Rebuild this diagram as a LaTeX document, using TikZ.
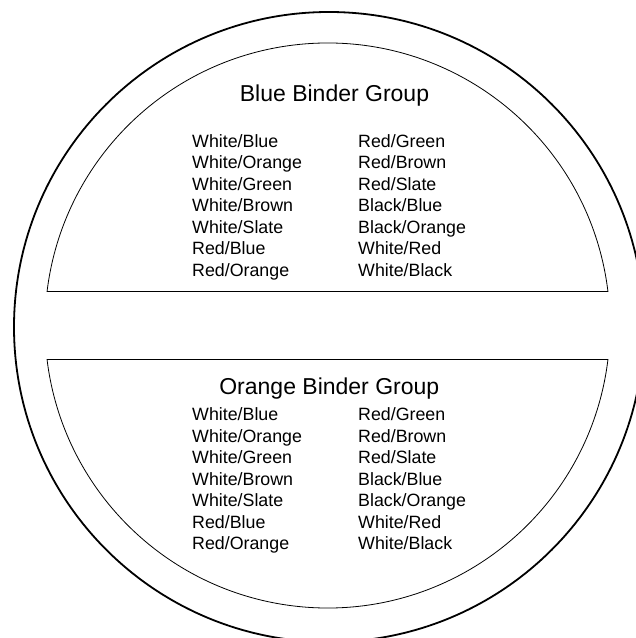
\documentclass[tikz,border=0pt]{standalone}
\usepackage{fontspec}
\setmainfont{Liberation Sans}
\begin{document}
\begin{tikzpicture}[x=1pt,y=1pt,
  pair/.style={font=\fontsize{17.8}{21}\selectfont,inner sep=0pt,anchor=base west},
  grouptitle/.style={font=\fontsize{23}{27}\selectfont,inner sep=0pt,anchor=base}]
\useasboundingbox (0,0) rectangle (636,638);
\clip (0,0) rectangle (636,638);
\coordinate (ctr) at (327.5,312.5);
\coordinate (rim) at (329,311);
% outer ring and the two binder halves
\draw[line width=1.8pt] (rim) circle (315pt);
\draw[line width=0.8pt] (ctr) ++(6.9:282.5pt) arc (6.9:173.1:282.5pt) -- cycle;
\draw[line width=0.8pt] (ctr) ++(-6.9:282.5pt) arc (-6.9:-173.1:282.5pt) -- cycle;
% blue binder group
\node[grouptitle] (bluetitle) at (334.5,536.3) {Blue Binder Group};
\foreach \c [count=\i] in {White/Blue,White/Orange,White/Green,White/Brown,White/Slate,Red/Blue,Red/Orange}
  \node[pair] (bl\i) at (192,{490.7-(\i-1)*21.5}) {\c};
\foreach \c [count=\i] in {Red/Green,Red/Brown,Red/Slate,Black/Blue,Black/Orange,White/Red,White/Black}
  \node[pair] (br\i) at (358,{490.7-(\i-1)*21.5}) {\c};
% orange binder group
\node[grouptitle] (orangetitle) at (329.3,243) {Orange Binder Group};
\foreach \c [count=\i] in {White/Blue,White/Orange,White/Green,White/Brown,White/Slate,Red/Blue,Red/Orange}
  \node[pair] (ol\i) at (192,{217.3-(\i-1)*21.5}) {\c};
\foreach \c [count=\i] in {Red/Green,Red/Brown,Red/Slate,Black/Blue,Black/Orange,White/Red,White/Black}
  \node[pair] (or\i) at (358,{217.3-(\i-1)*21.5}) {\c};
\end{tikzpicture}
\end{document}
